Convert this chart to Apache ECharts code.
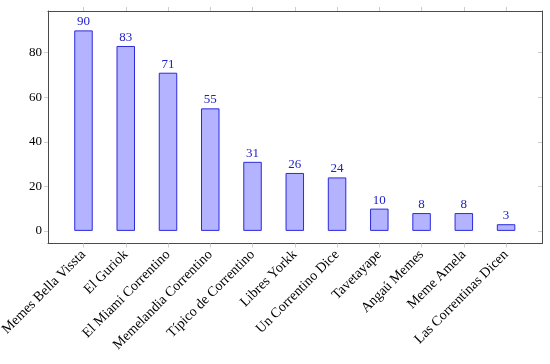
<!DOCTYPE html>
<html>
<head>
<meta charset="utf-8">
<script src="https://cdn.jsdelivr.net/npm/echarts@6/dist/echarts.min.js"></script>
<style>html,body{margin:0;padding:0;background:#fff}#c{width:550px;height:364px}</style>
</head>
<body>
<div id="c"></div>
<script>
const categories = ["Memes Bella Vissta","El Guriok","El Miami Correntino","Memelandia Correntino","Típico de Correntino","Libres Yorkk","Un Correntino Dice","Tavetayape","Angaú Memes","Meme Amela","Las Correntinas Dicen"];
const values = [90, 83, 71, 55, 31, 26, 24, 10, 8, 8, 3];
const yTicks = [0, 20, 40, 60, 80];

const positions = categories.map((_, i) => i);
const font = '"Liberation Serif", serif';
const frame = '#4a4a4a';
const tickCol = '#cfcfcf';

const chart = echarts.init(document.getElementById('c'));
chart.setOption({
  animation: false,
  grid: {left: 48, top: 11, right: 8, bottom: 120.5, containLabel: false, outerBoundsMode: 'none'},
  xAxis: [{
    type: 'value', min: -0.84, max: 10.85, position: 'bottom',
    axisLine: {show: true, onZero: false, lineStyle: {color: frame, width: 1}},
    axisTick: {show: true, customValues: positions, length: 4, lineStyle: {color: tickCol}},
    axisLabel: {customValues: positions, rotate: 45, margin: 9, fontFamily: font, fontSize: 14, color: '#000',
      formatter: v => categories[Math.round(v)]},
    splitLine: {show: false}
  }, {
    type: 'value', min: -0.84, max: 10.85, position: 'top',
    axisLine: {show: true, onZero: false, lineStyle: {color: frame, width: 1}},
    axisTick: {show: true, customValues: positions, length: 4, lineStyle: {color: tickCol}},
    axisLabel: {show: false},
    splitLine: {show: false}
  }],
  yAxis: [{
    type: 'value', min: -5.66, max: 98.7, position: 'left',
    axisLine: {show: true, onZero: false, lineStyle: {color: frame, width: 1}},
    axisTick: {show: true, customValues: yTicks, length: 4, lineStyle: {color: tickCol}},
    axisLabel: {customValues: yTicks, margin: 6, fontFamily: font, fontSize: 13, color: '#000'},
    splitLine: {show: false}
  }, {
    type: 'value', min: -5.66, max: 98.7, position: 'right',
    axisLine: {show: true, onZero: false, lineStyle: {color: frame, width: 1}},
    axisTick: {show: true, inside: true, customValues: yTicks, length: 4, lineStyle: {color: tickCol}},
    axisLabel: {show: false},
    splitLine: {show: false}
  }],
  series: [{
    type: 'bar',
    xAxisIndex: 0, yAxisIndex: 0,
    barWidth: 18.5,
    data: values.map((v, i) => [positions[i], v]),
    itemStyle: {color: '#b3b3ff', borderColor: '#2b2bdd', borderWidth: 1},
    label: {show: true, position: 'top', distance: 2, fontFamily: font, fontSize: 13, color: '#2020cc',
      formatter: p => p.value[1]}
  }]
});
</script>
</body>
</html>
